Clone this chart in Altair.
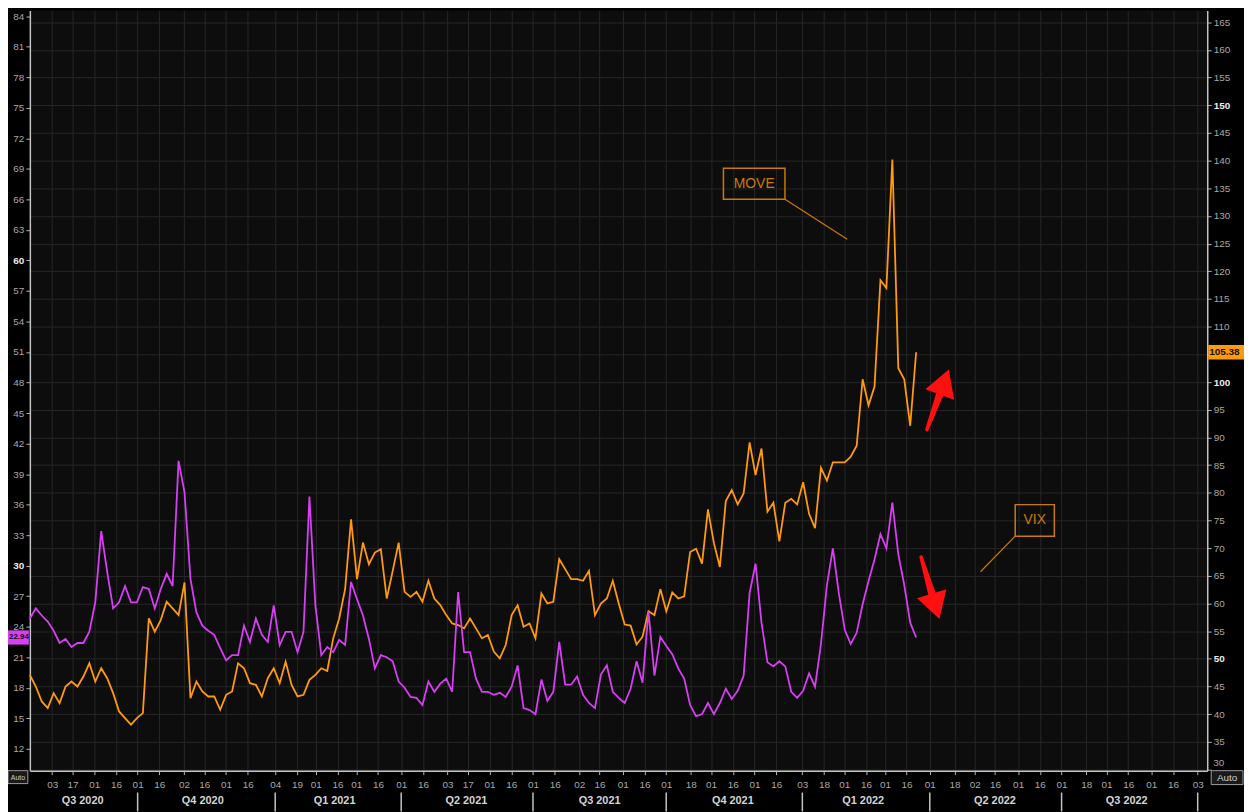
import altair as alt
import pandas as pd

# ---------------- data ----------------
vix_values = [
    24.8, 25.8, 25.1, 24.5, 23.6, 22.4, 22.8, 22.0, 22.4, 22.4,
    23.5, 26.4, 33.4, 29.4, 25.8, 26.4, 28.0, 26.4, 26.4, 27.9,
    27.7, 25.8, 27.7, 29.2, 28.0, 40.3, 37.2, 28.7, 25.4, 24.1,
    23.6, 23.2, 21.9, 20.7, 21.2, 21.2, 24.1, 22.5, 24.8, 23.2,
    22.5, 26.1, 22.2, 23.5, 23.5, 21.5, 23.5, 36.8, 26.1, 21.2,
    22.0,
    21.5, 22.7, 22.2, 28.4, 26.7, 25.1, 22.8, 19.9, 21.2, 21.0,
    20.6, 18.6, 18.0, 17.1, 17.0, 16.3, 18.6, 17.6, 18.4, 18.9,
    17.6, 27.4, 21.5, 21.5, 18.9, 17.6, 17.6, 17.3, 17.5, 17.1,
    18.1, 20.2, 16.0, 15.8, 15.4, 18.8, 16.7, 17.6, 22.5, 18.3,
    18.3, 19.1, 17.3, 16.5, 16.0, 19.3, 20.2, 17.6, 17.0, 16.5,
    17.9, 20.6, 18.5, 25.5, 19.2, 23.0, 22.1, 21.3, 19.9, 18.9,
    16.3, 15.2, 15.4, 16.5, 15.4, 16.5, 17.9, 16.9, 17.7, 19.2,
    27.3, 30.2, 24.4, 20.5, 20.1, 20.6, 20.1, 17.6, 17.0, 17.7,
    19.4, 18.1, 22.3, 28.1, 31.7, 27.3, 23.7, 22.3, 23.4, 26.2,
    28.5, 30.6, 33.1, 31.7, 36.2, 31.1, 28.1, 24.4, 22.94,
]
move_values = [
    47.1, 45.0, 42.3, 41.1, 43.8, 42.0, 45.0, 45.9, 45.0, 46.8,
    49.2, 45.9, 48.3, 46.5, 43.8, 40.5, 39.3, 38.1, 39.3, 40.2,
    57.3, 54.9, 57.0, 60.3, 59.1, 57.9, 63.8, 42.9, 45.9, 44.1,
    43.2, 43.2, 40.8, 43.5, 44.1, 49.2, 48.3, 45.6, 45.3, 43.2,
    46.5, 48.3, 45.6, 49.5, 45.3, 43.2, 43.5, 46.2, 47.1, 48.3,
    47.8,
    53.7, 57.3, 62.6, 75.2, 64.4, 71.0, 67.1, 69.2, 69.8, 60.9,
    65.9, 71.0, 62.1, 61.2, 62.1, 60.3, 64.1, 60.9, 59.7, 57.9,
    56.4, 56.1, 55.5, 57.3, 55.5, 53.7, 54.3, 51.3, 50.1, 52.5,
    57.9, 59.7, 55.8, 56.4, 53.7, 61.8, 60.0, 60.3, 68.0, 66.2,
    64.4, 64.4, 64.1, 65.9, 57.9, 60.0, 60.9, 64.1, 60.0, 56.2,
    56.0, 52.6, 54.0, 58.6, 57.9, 62.6, 58.6, 62.0, 60.9, 61.3,
    69.3, 69.9, 67.2, 77.0, 70.9, 66.6, 78.5, 80.5, 77.9, 79.9,
    89.1, 83.2, 88.0, 76.6, 78.2, 71.2, 78.2, 78.9, 77.9, 81.9,
    76.2, 73.6, 84.5, 82.2, 85.5, 85.5, 85.5, 86.5, 88.5, 100.5,
    95.8, 99.2, 118.4, 117.0, 140.2, 102.5, 100.5, 92.1, 105.38,
]
series_start = "2020-07-18T14:00:00"
series_end = "2022-03-22T14:00:00"
vix_last = 22.94
move_last = 105.38

day_ticks = [
    "2020-08-03", "2020-08-17", "2020-09-01", "2020-09-16",
    "2020-10-01", "2020-10-16", "2020-11-02", "2020-11-16", "2020-12-01", "2020-12-16",
    "2021-01-04", "2021-01-19", "2021-02-01", "2021-02-16", "2021-03-01", "2021-03-16",
    "2021-04-01", "2021-04-16", "2021-05-03", "2021-05-17", "2021-06-01", "2021-06-16",
    "2021-07-01", "2021-07-16", "2021-08-02", "2021-08-16", "2021-09-01", "2021-09-16",
    "2021-10-01", "2021-10-18", "2021-11-01", "2021-11-16", "2021-12-01", "2021-12-16",
    "2022-01-03", "2022-01-18", "2022-02-01", "2022-02-16", "2022-03-01", "2022-03-16",
    "2022-04-01", "2022-04-18", "2022-05-02", "2022-05-16", "2022-06-01", "2022-06-16",
    "2022-07-01", "2022-07-18", "2022-08-01", "2022-08-16", "2022-09-01", "2022-09-16",
    "2022-10-03",
]
quarter_labels = ["Q3 2020", "Q4 2020", "Q1 2021", "Q2 2021", "Q3 2021",
                  "Q4 2021", "Q1 2022", "Q2 2022", "Q3 2022"]
quarter_centres = ["2020-08-24", "2020-11-15", "2021-02-14", "2021-05-16", "2021-08-16",
                   "2021-11-16", "2022-02-14", "2022-05-16", "2022-08-15"]
quarter_starts = ["2020-10-01", "2021-01-04", "2021-04-01", "2021-07-01", "2021-10-01",
                  "2022-01-03", "2022-04-01", "2022-07-01", "2022-10-03"]
left_ticks = list(range(12, 85, 3))
right_ticks = list(range(30, 166, 5))

# ---------------- styling ----------------
MOVE_C = "#ff9a0e"
VIX_C = "#d63ff2"
ANN_C = "#c97a08"
ARROW_C = "#ff1010"
GRID_C = "#262626"
AXIS_C = "#c4c4c4"
LABEL_C = "#a8a8a8"
STRONG_C = "#ececec"
FONT = "Liberation Sans"

dates = pd.date_range(series_start, series_end, periods=len(vix_values))
df = pd.DataFrame({"date": dates.strftime("%Y-%m-%dT%H:%M:%S"),
                   "VIX": vix_values, "MOVE": move_values})


def dt(s, h=0):
    t = pd.Timestamp(s)
    return alt.DateTime(year=t.year, month=t.month, date=t.day, hours=h)


xs = alt.Scale(domain=[dt("2020-07-18", 14), dt("2022-10-09", 14)])
ys_vix = alt.Scale(domain=[9.85, 84.56], nice=False, zero=False)
ys_move = alt.Scale(domain=[29.8, 167.1], nice=False, zero=False)


def strong(test, on, off):
    return {"condition": {"test": test, "value": on}, "value": off}


x_axis = alt.Axis(values=[dt(s) for s in day_ticks], format="%d", title=None,
                  labelColor=LABEL_C, labelFontSize=10, labelFont=FONT,
                  labelPadding=5, labelOverlap=False, labelFlush=False,
                  tickColor="#b0b0b0", tickSize=4, domainColor=AXIS_C, domainWidth=1.5,
                  grid=True, gridColor=GRID_C, gridWidth=1)
left_axis = alt.Axis(orient="left", values=left_ticks, title=None, grid=False,
                     labelColor=strong("datum.value % 30 === 0", STRONG_C, LABEL_C),
                     labelFontWeight=strong("datum.value % 30 === 0", "bold", "normal"),
                     labelFontSize=10, labelFont=FONT, labelPadding=2,
                     tickColor="#b0b0b0", tickSize=4, domainColor=AXIS_C, domainWidth=1.5)
right_axis = alt.Axis(orient="right", values=right_ticks, title=None,
                      grid=True, gridColor=GRID_C, gridWidth=1,
                      labelExpr="datum.value == 30 || datum.value == 105 ? '' : datum.label",
                      labelColor=strong("datum.value % 50 === 0", STRONG_C, LABEL_C),
                      labelFontWeight=strong("datum.value % 50 === 0", "bold", "normal"),
                      labelFontSize=10, labelFont=FONT, labelPadding=2,
                      tickColor="#b0b0b0", tickSize=4, domainColor=AXIS_C, domainWidth=1.5)


def X(field):
    return alt.X(field, type="temporal", scale=xs, axis=x_axis)


def YM(field):
    return alt.Y(field, type="quantitative", scale=ys_move, axis=right_axis)


def YV(field):
    return alt.Y(field, type="quantitative", scale=ys_vix, axis=left_axis)


# ---------------- MOVE group ----------------
move_line = alt.Chart(df).mark_line(color=MOVE_C, strokeWidth=1.8).encode(
    x=X("date"), y=YM("MOVE"))

move_box_df = pd.DataFrame({"x1": ["2021-11-09T12:00:00"], "x2": ["2021-12-22T00:00:00"],
                            "y1": [133.0], "y2": [138.6],
                            "xm": ["2021-11-30T18:00:00"], "ym": [135.8], "t": ["MOVE"],
                            "lx2": ["2022-02-03T00:00:00"], "ly2": [125.8]})
move_box = alt.Chart(move_box_df).mark_rect(fillOpacity=0, stroke=ANN_C, strokeWidth=1.5).encode(
    x=X("x1"), x2="x2", y=YM("y1"), y2="y2")
move_text = alt.Chart(move_box_df).mark_text(color=ANN_C, fontSize=14, font=FONT).encode(
    x=X("xm"), y=YM("ym"), text="t:N")
move_leader = alt.Chart(move_box_df).mark_rule(color=ANN_C, strokeWidth=1.2).encode(
    x=X("x2"), x2="lx2", y=YM("y1"), y2="ly2")

arrow_up_shaft_df = pd.DataFrame({"d": ["2022-03-30T00:00:00", "2022-04-11T00:00:00"],
                                  "v": [91.4, 100.0], "w": [3.5, 9.0]})
arrow_up_shaft = alt.Chart(arrow_up_shaft_df).mark_trail(color=ARROW_C).encode(
    x=X("d"), y=YM("v"), size=alt.Size("w:Q", scale=None, legend=None))
arrow_up_head = alt.Chart(pd.DataFrame({"d": ["2022-04-11T00:00:00"], "v": [100.0]})).mark_point(
    shape="triangle-up", size=950, filled=True, color=ARROW_C, opacity=1, angle=20).encode(
    x=X("d"), y=YM("v"))

move_tag_df = pd.DataFrame({"lo": [move_last - 1.3], "hi": [move_last + 1.3],
                            "v": [move_last], "t": [f"{move_last:.2f}"]})
move_tag = alt.Chart(move_tag_df).mark_rect(color="#ff9a0e").encode(
    x=alt.value(1186), x2=alt.value(1224), y=YM("lo"), y2="hi")
move_tag_text = alt.Chart(move_tag_df).mark_text(color="#111111", fontSize=10, font=FONT,
                                                 fontWeight="bold", align="left").encode(
    x=alt.value(1187), y=YM("v"), text="t:N")
move_low_label = alt.Chart(pd.DataFrame({"v": [30], "t": ["30"]})).mark_text(
    color=LABEL_C, fontSize=10, font=FONT, align="left", dy=-7).encode(
    x=alt.value(1191), y=YM("v"), text="t:N")

move_group = alt.layer(move_line, move_box, move_text, move_leader,
                       arrow_up_shaft, arrow_up_head, move_tag, move_tag_text, move_low_label)

# ---------------- VIX group ----------------
vix_line = alt.Chart(df).mark_line(color=VIX_C, strokeWidth=1.8).encode(
    x=X("date"), y=YV("VIX"))

vix_box_df = pd.DataFrame({"x1": ["2022-05-30T00:00:00"], "x2": ["2022-06-26T00:00:00"],
                           "y1": [32.9], "y2": [36.0],
                           "xm": ["2022-06-12T12:00:00"], "ym": [34.45], "t": ["VIX"],
                           "lx2": ["2022-05-06T00:00:00"], "ly2": [29.4]})
vix_box = alt.Chart(vix_box_df).mark_rect(fillOpacity=0, stroke=ANN_C, strokeWidth=1.5).encode(
    x=X("x1"), x2="x2", y=YV("y1"), y2="y2")
vix_text = alt.Chart(vix_box_df).mark_text(color=ANN_C, fontSize=14, font=FONT).encode(
    x=X("xm"), y=YV("ym"), text="t:N")
vix_leader = alt.Chart(vix_box_df).mark_rule(color=ANN_C, strokeWidth=1.2).encode(
    x=X("x1"), x2="lx2", y=YV("y1"), y2="ly2")

arrow_dn_shaft_df = pd.DataFrame({"d": ["2022-03-26T00:00:00", "2022-04-05T00:00:00"],
                                  "v": [30.85, 26.0], "w": [3.5, 9.0]})
arrow_dn_shaft = alt.Chart(arrow_dn_shaft_df).mark_trail(color=ARROW_C).encode(
    x=X("d"), y=YV("v"), size=alt.Size("w:Q", scale=None, legend=None))
arrow_dn_head = alt.Chart(pd.DataFrame({"d": ["2022-04-05T00:00:00"], "v": [26.0]})).mark_point(
    shape="triangle-down", size=950, filled=True, color=ARROW_C, opacity=1, angle=343).encode(
    x=X("d"), y=YV("v"))

vix_tag_df = pd.DataFrame({"lo": [vix_last - 0.7], "hi": [vix_last + 0.7],
                           "v": [vix_last], "t": [f"{vix_last:.2f}"]})
vix_tag = alt.Chart(vix_tag_df).mark_rect(color=VIX_C).encode(
    x=alt.value(-22), x2=alt.value(-1), y=YV("lo"), y2="hi")
vix_tag_text = alt.Chart(vix_tag_df).mark_text(color="#111111", fontSize=8, font=FONT,
                                               fontWeight="bold", align="right").encode(
    x=alt.value(-1), y=YV("v"), text="t:N")

vix_group = alt.layer(vix_line, vix_box, vix_text, vix_leader,
                      arrow_dn_shaft, arrow_dn_head, vix_tag, vix_tag_text)

# ---------------- quarter row & corner boxes ----------------
q_df = pd.DataFrame({"q": quarter_labels, "d": quarter_centres})
q_text = alt.Chart(q_df).mark_text(color="#d4d4d4", fontSize=11, font=FONT,
                                   fontWeight="bold", baseline="middle").encode(
    x=X("d"), y=alt.value(796), text="q:N")
qs_df = pd.DataFrame({"d": quarter_starts})
q_rules = alt.Chart(qs_df).mark_rule(color="#c4c4c4", strokeWidth=1.5).encode(
    x=X("d"), y=alt.value(787), y2=alt.value(806))

one = pd.DataFrame({"t": ["Auto"]})
auto_l_box = alt.Chart(one).mark_rect(fill="#1a1a1a", stroke="#9a9a9a", strokeWidth=1).encode(
    x=alt.value(-22), x2=alt.value(-2), y=alt.value(765), y2=alt.value(778))
auto_l_txt = alt.Chart(one).mark_text(color="#cfcfcf", fontSize=7, font=FONT, align="center").encode(
    x=alt.value(-12), y=alt.value(772), text="t:N")
auto_r_box = alt.Chart(one).mark_rect(fill="#1a1a1a", stroke="#9a9a9a", strokeWidth=1).encode(
    x=alt.value(1189), x2=alt.value(1221), y=alt.value(765), y2=alt.value(779))
auto_r_txt = alt.Chart(one).mark_text(color="#cfcfcf", fontSize=10, font=FONT, align="center").encode(
    x=alt.value(1205), y=alt.value(772), text="t:N")

chart = alt.layer(
    move_group, vix_group, q_text, q_rules, auto_l_box, auto_l_txt, auto_r_box, auto_r_txt
).resolve_scale(y="independent").properties(
    width=1185, height=765, background="#000000",
    autosize=alt.AutoSizeParams(type="none"),
    padding={"left": 22, "top": 0, "right": 37, "bottom": 39},
).configure_view(fill="#0d0d0d", strokeWidth=0)

chart.save("out.html", embed_options={"renderer": "svg", "actions": False})
